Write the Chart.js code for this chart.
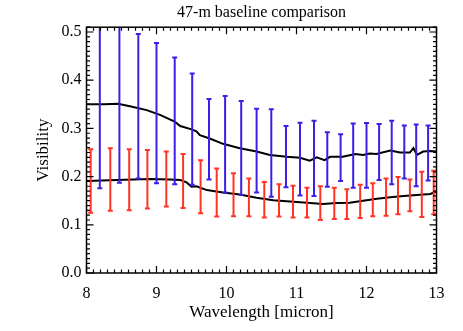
<!DOCTYPE html>
<html lang="en">
<head>
<meta charset="UTF-8">
<title>47-m baseline comparison</title>
<script src="https://cdn.jsdelivr.net/npm/chart.js"></script>
<style>
  body { margin: 0; background: #fff; }
</style>
</head>
<body>
<canvas id="visChart" width="463" height="331"></canvas>
<script>
// black curves
var upperWave = [8.00, 8.25, 8.45, 8.62, 8.86, 9.05, 9.26, 9.34, 9.50, 9.57, 9.62, 9.76, 9.95, 10.19, 10.43, 10.62, 10.86, 11.05, 11.19, 11.29, 11.40, 11.48, 11.66, 11.84, 11.95, 12.05, 12.14, 12.34, 12.48, 12.62, 12.67, 12.72, 12.81, 12.91, 13.00];
var upperVis = [0.350, 0.350, 0.351, 0.346, 0.338, 0.328, 0.314, 0.305, 0.298, 0.294, 0.286, 0.279, 0.268, 0.259, 0.252, 0.245, 0.241, 0.239, 0.233, 0.240, 0.234, 0.241, 0.241, 0.247, 0.245, 0.248, 0.247, 0.254, 0.250, 0.250, 0.259, 0.245, 0.252, 0.253, 0.252];
var lowerWave = [8.00, 8.43, 8.91, 9.19, 9.34, 9.43, 9.50, 9.57, 9.72, 9.95, 10.19, 10.43, 10.67, 10.86, 11.15, 11.38, 11.57, 11.76, 11.95, 12.15, 12.34, 12.53, 12.72, 12.91, 13.00];
var lowerVis = [0.191, 0.193, 0.195, 0.194, 0.193, 0.188, 0.179, 0.180, 0.172, 0.167, 0.163, 0.156, 0.151, 0.149, 0.146, 0.143, 0.145, 0.146, 0.150, 0.154, 0.157, 0.160, 0.162, 0.164, 0.169];

// blue error bars (upper curve)
var blueWave = [8.19, 8.47, 8.74, 9.00, 9.26, 9.51, 9.75, 9.98, 10.21, 10.43, 10.64, 10.85, 11.05, 11.25, 11.44, 11.63, 11.81, 12.00, 12.18, 12.36, 12.54, 12.71, 12.88];
var blueLow = [0.176, 0.187, 0.196, 0.186, 0.184, 0.183, 0.194, 0.167, 0.162, 0.167, 0.158, 0.178, 0.161, 0.160, 0.179, 0.191, 0.177, 0.177, 0.193, 0.184, 0.196, 0.180, 0.192];
var blueHigh = [0.53, 0.52, 0.496, 0.477, 0.447, 0.414, 0.361, 0.367, 0.357, 0.341, 0.340, 0.305, 0.312, 0.316, 0.292, 0.288, 0.310, 0.311, 0.309, 0.316, 0.306, 0.308, 0.306];

// red error bars (lower curve)
var redWave = [8.06, 8.34, 8.61, 8.87, 9.14, 9.38, 9.63, 9.86, 10.10, 10.32, 10.54, 10.75, 10.95, 11.15, 11.34, 11.54, 11.72, 11.91, 12.09, 12.28, 12.45, 12.62, 12.79, 12.96];
var redLow = [0.125, 0.129, 0.130, 0.134, 0.138, 0.135, 0.124, 0.117, 0.118, 0.118, 0.115, 0.117, 0.115, 0.115, 0.110, 0.112, 0.112, 0.114, 0.118, 0.119, 0.122, 0.128, 0.116, 0.122];
var redHigh = [0.257, 0.259, 0.257, 0.255, 0.252, 0.247, 0.234, 0.217, 0.207, 0.196, 0.189, 0.184, 0.181, 0.177, 0.180, 0.177, 0.174, 0.183, 0.186, 0.196, 0.199, 0.194, 0.210, 0.212];

var xTicks = [8, 9, 10, 11, 12, 13];
var yTicks = [0.0, 0.1, 0.2, 0.3, 0.4, 0.5];

var serif = '"Liberation Serif", "DejaVu Serif", serif';

function toPoints(xs, ys) {
    return xs.map(function (v, i) { return { x: v, y: ys[i] }; });
}

function drawErrorBars(ctx, xs, ys, wave, lo, hi, color) {
    ctx.strokeStyle = color;
    ctx.lineWidth = 2;
    for (var i = 0; i < wave.length; i++) {
        var px = xs.getPixelForValue(wave[i]);
        var top = ys.getPixelForValue(hi[i]);
        var bot = ys.getPixelForValue(lo[i]);
        ctx.beginPath();
        ctx.moveTo(px, top);
        ctx.lineTo(px, bot);
        ctx.moveTo(px - 2.5, top);
        ctx.lineTo(px + 2.5, top);
        ctx.moveTo(px - 2.5, bot);
        ctx.lineTo(px + 2.5, bot);
        ctx.stroke();
    }
}

// error bars plus the IDL style box with inward ticks
var framePlugin = {
    id: 'frame',
    afterDatasetsDraw: function (chart) {
        var ctx = chart.ctx, a = chart.chartArea;
        var xs = chart.scales.x, ys = chart.scales.y;

        ctx.save();
        ctx.beginPath();
        ctx.rect(a.left, a.top, a.right - a.left, a.bottom - a.top);
        ctx.clip();
        drawErrorBars(ctx, xs, ys, blueWave, blueLow, blueHigh, '#3c1ee6');
        drawErrorBars(ctx, xs, ys, redWave, redLow, redHigh, '#ff3424');
        ctx.restore();

        ctx.save();
        ctx.strokeStyle = '#000';
        ctx.lineWidth = 1.5;
        ctx.strokeRect(a.left, a.top, a.right - a.left, a.bottom - a.top);
        ctx.lineWidth = 1.2;
        ctx.beginPath();
        for (var i = 80; i <= 130; i++) {
            var px = xs.getPixelForValue(i / 10);
            var len = (i % 10 === 0) ? 7 : 3.5;
            ctx.moveTo(px, a.bottom);
            ctx.lineTo(px, a.bottom - len);
            ctx.moveTo(px, a.top);
            ctx.lineTo(px, a.top + len);
        }
        for (var j = 0; j <= 51; j++) {
            var py = ys.getPixelForValue(j / 100);
            var l2 = (j % 10 === 0) ? 7 : 3.5;
            ctx.moveTo(a.left, py);
            ctx.lineTo(a.left + l2, py);
            ctx.moveTo(a.right, py);
            ctx.lineTo(a.right - l2, py);
        }
        ctx.stroke();
        ctx.restore();
    }
};

var ctx = document.getElementById('visChart').getContext('2d');
var visChart = new Chart(ctx, {
    type: 'line',
    data: {
        datasets: [{
            data: toPoints(upperWave, upperVis),
            borderColor: '#000',
            borderWidth: 2,
            pointRadius: 0,
            tension: 0,
            fill: false
        }, {
            data: toPoints(lowerWave, lowerVis),
            borderColor: '#000',
            borderWidth: 2,
            pointRadius: 0,
            tension: 0,
            fill: false
        }]
    },
    options: {
        responsive: false,
        animation: false,
        layout: { padding: { left: 0, right: 26.5, top: 0, bottom: 0 } },
        plugins: {
            legend: { display: false },
            tooltip: { enabled: false },
            title: {
                display: true,
                text: '47-m baseline comparison',
                fullSize: false,
                color: '#000',
                font: { family: serif, size: 16, weight: 'normal' },
                padding: { top: 3, bottom: 5 }
            }
        },
        scales: {
            x: {
                type: 'linear',
                min: 8,
                max: 13,
                grid: { display: false, drawTicks: false },
                border: { display: false },
                afterBuildTicks: function (scale) {
                    scale.ticks = xTicks.map(function (v) { return { value: v }; });
                },
                ticks: {
                    color: '#000',
                    padding: 11,
                    maxRotation: 0,
                    font: { family: serif, size: 16 },
                    callback: function (v) { return String(v); }
                },
                title: {
                    display: true,
                    text: 'Wavelength [micron]',
                    color: '#000',
                    font: { family: serif, size: 17 },
                    padding: { top: 0, bottom: 8 }
                },
                afterFit: function (scale) { scale.height = 58; }
            },
            y: {
                type: 'linear',
                min: 0,
                max: 0.51,
                grid: { display: false, drawTicks: false },
                border: { display: false },
                afterBuildTicks: function (scale) {
                    scale.ticks = yTicks.map(function (v) { return { value: v }; });
                },
                ticks: {
                    color: '#000',
                    padding: 5,
                    font: { family: serif, size: 16 },
                    callback: function (v) { return v.toFixed(1); }
                },
                title: {
                    display: true,
                    text: 'Visibility',
                    color: '#000',
                    font: { family: serif, size: 17 },
                    padding: { top: 33, bottom: 0 }
                },
                afterFit: function (scale) { scale.width = 86.5; }
            }
        }
    },
    plugins: [framePlugin]
});
</script>
</body>
</html>
